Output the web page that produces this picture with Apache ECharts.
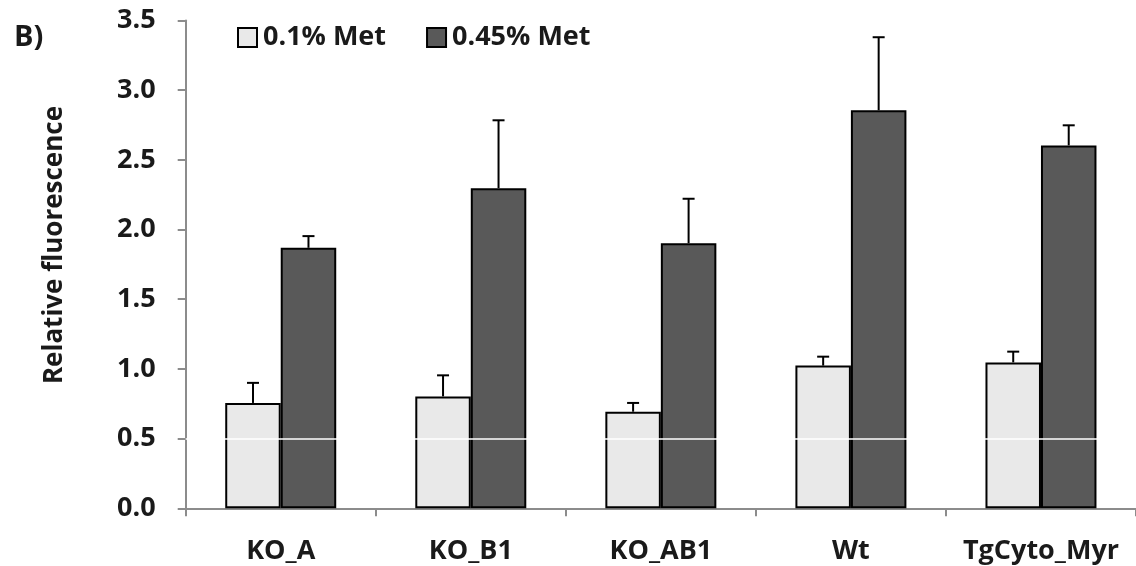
<!DOCTYPE html>
<html>
<head>
<meta charset="utf-8">
<script src="https://cdn.jsdelivr.net/npm/echarts@6/dist/echarts.min.js"></script>
<style>html,body{margin:0;padding:0;background:#fff;}#c{width:1136px;height:566px;}</style>
</head>
<body>
<div id="c"></div>
<script>
const categories = ['KO_A', 'KO_B1', 'KO_AB1', 'Wt', 'TgCyto_Myr'];
const seriesNames = ['0.1% Met', '0.45% Met'];
const lowMet = [0.756, 0.803, 0.693, 1.024, 1.047];
const lowMetErr = [0.144, 0.151, 0.063, 0.064, 0.077];
const highMet = [1.869, 2.297, 1.902, 2.856, 2.604];
const highMetErr = [0.084, 0.487, 0.319, 0.524, 0.144];
const yTicks = [0, 0.5, 1.0, 1.5, 2.0, 2.5, 3.0, 3.5];

const FONT = '"Open Sans"';
const BAR_W = 55.5;

function errData(vals, errs) {
  return vals.map((v, i) => [i, v, errs[i]]);
}
function errRender(offset) {
  return function (params, api) {
    const i = api.value(0), v = api.value(1), e = api.value(2);
    const p0 = api.coord([i, v]);
    const p1 = api.coord([i, v + e]);
    const x = p0[0] + offset;
    const st = { stroke: '#000', lineWidth: 2 };
    return {
      type: 'group',
      children: [
        { type: 'line', shape: { x1: x, y1: p0[1], x2: x, y2: p1[1] }, style: st },
        { type: 'line', shape: { x1: x - 6, y1: p1[1], x2: x + 6, y2: p1[1] }, style: st }
      ]
    };
  };
}

const chart = echarts.init(document.getElementById('c'), null, { renderer: 'canvas' });
chart.setOption({
  backgroundColor: '#fff',
  animation: false,
  textStyle: { fontFamily: FONT },
  grid: { left: 185.7, top: 20.5, bottom: 57.7, right: -13.7, containLabel: false },
  legend: {
    data: seriesNames,
    left: 232, top: 19,
    itemWidth: 19, itemHeight: 19, itemGap: 40,
    icon: 'rect',
    textStyle: { fontFamily: FONT, fontWeight: 'bold', fontSize: 27, color: '#1a1a1a', padding: [0, 0, 0, 1] }
  },
  graphic: [
    { type: 'text', x: 14, y: 38, style: { text: 'B)', font: 'bold 29px ' + FONT, fill: '#1a1a1a', align: 'left', verticalAlign: 'middle' } },
    { type: 'text', x: 55, y: 245, rotation: Math.PI / 2,
      style: { text: 'Relative fluorescence', font: 'bold 26px ' + FONT, fill: '#1a1a1a', align: 'center', verticalAlign: 'middle' } }
  ],
  xAxis: {
    type: 'category',
    data: categories,
    axisLine: { lineStyle: { color: '#8c8c8c', width: 2 } },
    axisTick: { show: true, length: 8, lineStyle: { color: '#8c8c8c', width: 2 } },
    axisLabel: { interval: 0, hideOverlap: false, margin: 30, fontFamily: FONT, fontWeight: 'bold', fontSize: 27, color: '#1a1a1a' }
  },
  yAxis: {
    type: 'value',
    min: 0, max: 3.5, interval: 0.5,
    axisLine: { show: true, lineStyle: { color: '#8c8c8c', width: 2 } },
    axisTick: { show: true, length: 8, lineStyle: { color: '#8c8c8c', width: 2 } },
    splitLine: { show: false },
    axisLabel: {
      margin: 30, fontFamily: FONT, fontWeight: 'bold', fontSize: 27, color: '#1a1a1a',
      formatter: v => yTicks.includes(v) ? v.toFixed(1) : ''
    }
  },
  series: [
    {
      name: seriesNames[0], type: 'bar', data: lowMet,
      barWidth: BAR_W, barGap: '0%',
      itemStyle: { color: '#e9e9e9', borderColor: '#000', borderWidth: 2 }
    },
    {
      name: seriesNames[1], type: 'bar', data: highMet,
      barWidth: BAR_W, barGap: '0%',
      itemStyle: { color: '#595959', borderColor: '#000', borderWidth: 2 }
    },
    {
      type: 'custom', name: 'err1', data: errData(lowMet, lowMetErr),
      renderItem: errRender(-BAR_W / 2), z: 5, silent: true
    },
    {
      type: 'custom', name: 'err2', data: errData(highMet, highMetErr),
      renderItem: errRender(BAR_W / 2), z: 5, silent: true,
      markLine: {
        silent: true, symbol: 'none', label: { show: false },
        lineStyle: { color: '#ffffff', width: 1.5, type: 'solid' },
        data: [{ yAxis: 0.5 }]
      }
    }
  ]
});
</script>
</body>
</html>
